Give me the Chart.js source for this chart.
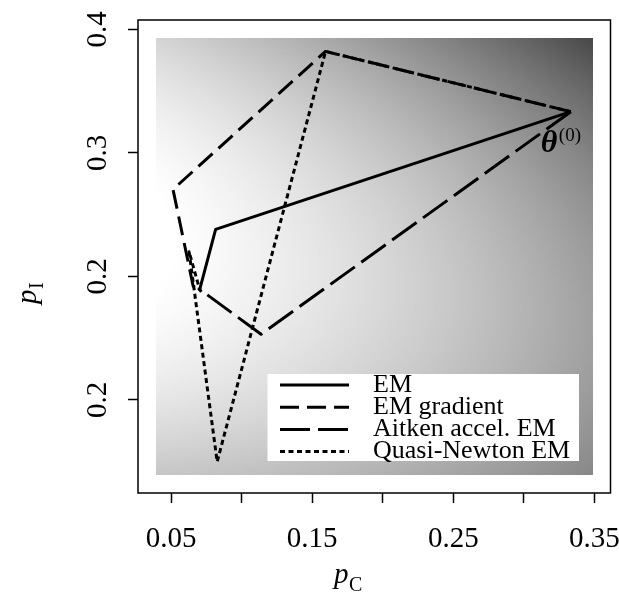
<!DOCTYPE html>
<html>
<head>
<meta charset="utf-8">
<script src="https://cdn.jsdelivr.net/npm/chart.js@4.4.1/dist/chart.umd.min.js"></script>
<style>
  html, body { margin: 0; padding: 0; background: #fff; }
</style>
</head>
<body>
<canvas id="chart" width="619" height="597"></canvas>
<script>
// iteration paths in (p_C, p_I), all starting at theta(0)
const emPC = [0.3333, 0.0816, 0.0703, 0.0715];
const emPI = [0.3333, 0.2380, 0.1893, 0.1875];
const gradPC = [0.3333, 0.1595, 0.0514, 0.0657, 0.0705];
const gradPI = [0.3333, 0.3821, 0.2704, 0.1920, 0.1885];
const aitkenPC = [0.3333, 0.1138, 0.0692];
const aitkenPI = [0.3333, 0.1532, 0.1905];
const qnPC = [0.3333, 0.1595, 0.0827, 0.0628, 0.0705];
const qnPI = [0.3333, 0.3821, 0.0500, 0.2200, 0.1885];

const seriesNames = ["EM", "EM gradient", "Aitken accel. EM", "Quasi-Newton EM"];

const xTicks = [0.05, 0.10, 0.15, 0.20, 0.25, 0.30, 0.35];
const xTickLabels = ["0.05", "", "0.15", "", "0.25", "", "0.35"];
const yTicks = [0.1, 0.2, 0.3, 0.4];
const yTickLabels = ["0.2", "0.2", "0.3", "0.4"];

const xRange = [0.0266, 0.3614];
const yRange = [0.0247, 0.4075];

// shaded likelihood surface behind the paths
const surfaceX = [0.039, 0.349];
const surfaceY = [0.0389, 0.3933];
const surfaceCoef = [1.82, 6.48, 2.765, -0.495, 0.657]; // X^2, Y^2, XY, Y, X

const serif = "'Liberation Serif', 'DejaVu Serif', serif";

function toPoints(xs, ys) {
  return xs.map((v, i) => ({ x: v, y: ys[i] }));
}

function shade(pc, pi) {
  const X = pc - 0.04, Y = pi - 0.19;
  const c = surfaceCoef;
  const d = c[0] * X * X + c[1] * Y * Y + c[2] * X * Y + c[3] * Y + c[4] * X;
  return Math.round(255 * Math.min(1, Math.max(0, 1 - d)));
}

const surfacePlugin = {
  id: "surface",
  beforeDatasetsDraw(chart) {
    const { ctx, scales: { x, y } } = chart;
    const n = 150;
    const off = document.createElement("canvas");
    off.width = n;
    off.height = n;
    const octx = off.getContext("2d");
    const img = octx.createImageData(n, n);
    for (let j = 0; j < n; j++) {
      const pi = surfaceY[1] - (j + 0.5) / n * (surfaceY[1] - surfaceY[0]);
      for (let i = 0; i < n; i++) {
        const pc = surfaceX[0] + (i + 0.5) / n * (surfaceX[1] - surfaceX[0]);
        const g = shade(pc, pi);
        const k = (j * n + i) * 4;
        img.data[k] = g;
        img.data[k + 1] = g;
        img.data[k + 2] = g;
        img.data[k + 3] = 255;
      }
    }
    octx.putImageData(img, 0, 0);
    const l = x.getPixelForValue(surfaceX[0]);
    const r = x.getPixelForValue(surfaceX[1]);
    const t = y.getPixelForValue(surfaceY[1]);
    const b = y.getPixelForValue(surfaceY[0]);
    ctx.save();
    ctx.imageSmoothingEnabled = true;
    ctx.drawImage(off, l, t, r - l, b - t);
    ctx.restore();
  },
  afterDraw(chart) {
    const { ctx, chartArea: a, scales: { x, y } } = chart;
    ctx.save();

    // box around the plot
    ctx.strokeStyle = "#000";
    ctx.lineWidth = 1.5;
    ctx.strokeRect(a.left, a.top, a.right - a.left, a.bottom - a.top);

    // y tick labels, rotated like R's default
    ctx.fillStyle = "#000";
    ctx.font = "29px " + serif;
    ctx.textAlign = "center";
    ctx.textBaseline = "alphabetic";
    yTicks.forEach((v, i) => {
      ctx.save();
      ctx.translate(a.left - 32, y.getPixelForValue(v));
      ctx.rotate(-Math.PI / 2);
      ctx.fillText(yTickLabels[i], 0, 0);
      ctx.restore();
    });

    // axis titles
    ctx.textAlign = "left";
    ctx.font = "italic 29px " + serif;
    ctx.fillText("p", 334, 583);
    ctx.font = "20px " + serif;
    ctx.fillText("C", 349, 591);

    ctx.save();
    ctx.translate(36, 304);
    ctx.rotate(-Math.PI / 2);
    ctx.font = "italic 29px " + serif;
    ctx.fillText("p", 0, 0);
    ctx.font = "20px " + serif;
    ctx.fillText("I", 15, 7);
    ctx.restore();

    // theta(0) label next to the start point
    const sx = x.getPixelForValue(emPC[0]);
    const sy = y.getPixelForValue(emPI[0]);
    ctx.font = "italic bold 32px " + serif;
    ctx.fillText("\u03B8", sx - 30, sy + 40);
    ctx.font = "19px " + serif;
    ctx.fillText("(0)", sx - 12, sy + 29);

    // legend
    ctx.fillStyle = "#fff";
    ctx.fillRect(267.5, 374, 311.5, 87);
    chart.data.datasets.forEach((ds, i) => {
      const ly = 385 + i * 22.2;
      ctx.strokeStyle = "#000";
      ctx.lineWidth = ds.borderWidth;
      ctx.setLineDash(ds.borderDash || []);
      ctx.beginPath();
      ctx.moveTo(280, ly);
      ctx.lineTo(349, ly);
      ctx.stroke();
      ctx.setLineDash([]);
      ctx.fillStyle = "#000";
      ctx.font = "26px " + serif;
      ctx.textBaseline = "middle";
      ctx.fillText(ds.label, 373, ly);
    });
    ctx.restore();
  }
};

const lineStyle = {
  showLine: true,
  pointRadius: 0,
  borderColor: "#000",
  borderWidth: 3,
  borderJoinStyle: "round",
  tension: 0,
  fill: false
};

new Chart(document.getElementById("chart"), {
  type: "scatter",
  plugins: [surfacePlugin],
  data: {
    datasets: [
      { ...lineStyle, label: seriesNames[0], data: toPoints(emPC, emPI), borderDash: [] },
      { ...lineStyle, label: seriesNames[1], data: toPoints(gradPC, gradPI), borderDash: [19, 8] },
      { ...lineStyle, label: seriesNames[2], data: toPoints(aitkenPC, aitkenPI), borderDash: [30, 8] },
      { ...lineStyle, label: seriesNames[3], data: toPoints(qnPC, qnPI), borderDash: [5, 3.5] }
    ]
  },
  options: {
    responsive: false,
    animation: false,
    layout: { padding: { top: 20, right: 8.5, left: 0, bottom: 0 } },
    plugins: {
      legend: { display: false },
      tooltip: { enabled: false }
    },
    scales: {
      x: {
        type: "linear",
        min: xRange[0],
        max: xRange[1],
        afterBuildTicks: (scale) => { scale.ticks = xTicks.map((v) => ({ value: v })); },
        afterFit: (scale) => {
          scale.height = 104;
          scale.paddingLeft = 0;
          scale.paddingRight = 0;
        },
        grid: { drawOnChartArea: false, drawTicks: true, tickLength: 10, tickColor: "#000", tickWidth: 1.5 },
        border: { display: false },
        ticks: {
          autoSkip: false,
          maxRotation: 0,
          padding: 19,
          color: "#000",
          font: { family: serif, size: 29 },
          callback: (v, i) => xTickLabels[i]
        }
      },
      y: {
        type: "linear",
        min: yRange[0],
        max: yRange[1],
        afterBuildTicks: (scale) => { scale.ticks = yTicks.map((v) => ({ value: v })); },
        afterFit: (scale) => {
          scale.width = 138;
          scale.paddingTop = 0;
          scale.paddingBottom = 0;
        },
        grid: { drawOnChartArea: false, drawTicks: true, tickLength: 10, tickColor: "#000", tickWidth: 1.5 },
        border: { display: false },
        ticks: { display: false }
      }
    }
  }
});
</script>
</body>
</html>
